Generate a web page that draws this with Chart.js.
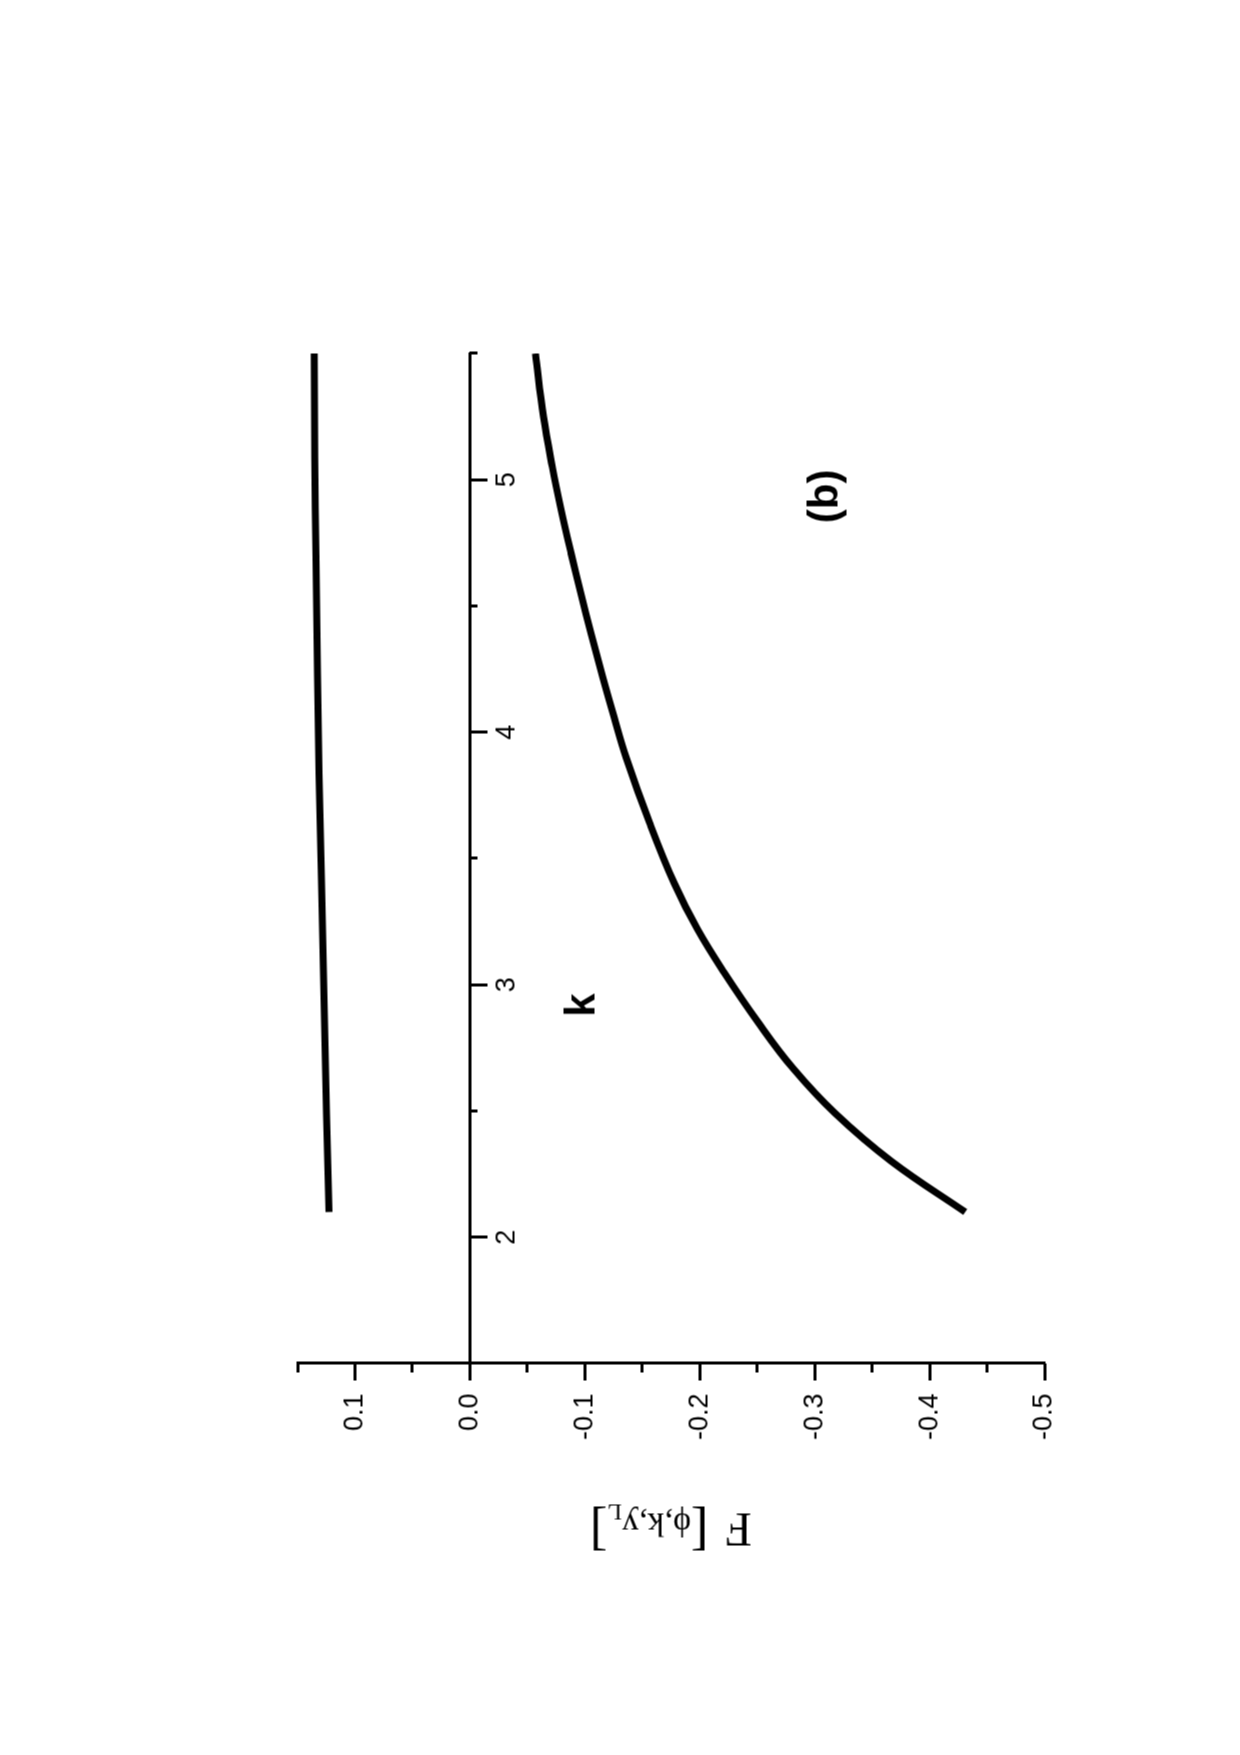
<!DOCTYPE html>
<html>
<head>
<meta charset="utf-8">
<script src="https://cdn.jsdelivr.net/npm/chart.js@4.4.1/dist/chart.umd.min.js"></script>
<style>
    html, body {
        margin: 0;
        padding: 0;
        background: #ffffff;
    }
    body {
        width: 1240px;
        height: 1755px;
        overflow: hidden;
        position: relative;
    }
    /* The figure is printed sideways: draw it landscape, then turn it a quarter turn */
    #plotHolder {
        position: absolute;
        left: -257.5px;
        top: 257.5px;
        width: 1755px;
        height: 1240px;
        transform: rotate(-90deg);
    }
</style>
</head>
<body>
<div id="plotHolder">
    <canvas id="fieldChart" width="1755" height="1240"></canvas>
</div>
<script>
// Axis ranges and ticks
const kMin = 1.5;
const kMax = 5.5;
const fMin = -0.5;
const fMax = 0.15;
const kTicks = [2, 3, 4, 5];
const kMinorTicks = [1.5, 2, 2.5, 3, 3.5, 4, 4.5, 5, 5.5];
const fTicks = [-0.5, -0.4, -0.3, -0.2, -0.1, 0.0, 0.1];
const fMinorTicks = [-0.5, -0.45, -0.4, -0.35, -0.3, -0.25, -0.2, -0.15, -0.1, -0.05, 0.0, 0.05, 0.1, 0.15];

// Upper branch
const upperK = [2.10, 2.49, 2.95, 3.41, 3.84, 4.23, 4.69, 5.09, 5.50];
const upperF = [0.1225, 0.1247, 0.1270, 0.1291, 0.1312, 0.1326, 0.1340, 0.1349, 0.1355];

// Lower branch
const lowerK = [2.10, 2.30, 2.49, 2.67, 2.85, 3.05, 3.22, 3.40, 3.64, 3.90, 4.06, 4.22, 4.39, 4.55, 4.71, 4.89, 5.05, 5.25, 5.50];
const lowerF = [-0.431, -0.367, -0.318, -0.281, -0.251, -0.221, -0.198, -0.178, -0.1565, -0.136, -0.1255, -0.1155, -0.1055, -0.0965, -0.088, -0.079, -0.0718, -0.064, -0.057];

// Text placed in data units
const kTitleAt = [2.92, -0.1088];
const panelTagAt = [4.934, -0.3203];

const sansFont = '"Liberation Sans", Arial, sans-serif';
const serifFont = '"Liberation Serif", "Times New Roman", serif';

// Turn two arrays into {x, y} points
function toPoints(xs, ys) {
    return xs.map((x, i) => ({x: x, y: ys[i]}));
}

// Replace the generated ticks with a fixed list
function useTicks(values) {
    return scale => {
        scale.ticks = values.map(v => ({value: v}));
    };
}

// Draws the "k" title, the panel tag and the F axis title with its subscript
const figureText = {
    id: 'figureText',
    afterDraw(chart) {
        const {ctx, chartArea, scales} = chart;
        const x = scales.x;
        const y = scales.y;

        ctx.save();
        ctx.fillStyle = '#000000';
        ctx.textAlign = 'center';
        ctx.textBaseline = 'alphabetic';
        ctx.font = 'bold 42px ' + sansFont;
        ctx.fillText('k', x.getPixelForValue(kTitleAt[0]), y.getPixelForValue(kTitleAt[1]));
        ctx.fillText('(b)', x.getPixelForValue(panelTagAt[0]), y.getPixelForValue(panelTagAt[1]));

        // F [ϕ,k,y_L], read bottom to top
        const pieces = [
            {text: 'F', font: '48px ' + serifFont, dy: 0},
            {text: '  ', font: '34px ' + serifFont, dy: 0},
            {text: '[', font: '52px ' + serifFont, dy: 0},
            {text: 'ϕ,k,y', font: '34px ' + serifFont, dy: 0},
            {text: 'L', font: '24px ' + serifFont, dy: 9},
            {text: ']', font: '52px ' + serifFont, dy: 0}
        ];
        let total = 0;
        pieces.forEach(p => {
            ctx.font = p.font;
            p.width = ctx.measureText(p.text).width;
            total += p.width;
        });
        ctx.translate(chartArea.left - 150, (chartArea.top + chartArea.bottom) / 2);
        ctx.rotate(-Math.PI / 2);
        ctx.textAlign = 'left';
        let pos = -total / 2;
        pieces.forEach(p => {
            ctx.font = p.font;
            ctx.fillText(p.text, pos, p.dy);
            pos += p.width;
        });
        ctx.restore();
    }
};

const canvasContext = document.getElementById('fieldChart').getContext('2d');

new Chart(canvasContext, {
    type: 'line',
    data: {
        datasets: [
            {
                label: 'upper',
                data: toPoints(upperK, upperF),
                borderColor: '#000000',
                borderWidth: 7,
                pointRadius: 0,
                fill: false,
                tension: 0.4
            },
            {
                label: 'lower',
                data: toPoints(lowerK, lowerF),
                borderColor: '#000000',
                borderWidth: 7,
                pointRadius: 0,
                fill: false,
                tension: 0.4
            }
        ]
    },
    options: {
        responsive: false,
        animation: false,
        devicePixelRatio: 1,
        layout: {
            padding: {left: 292, right: 353, top: 297, bottom: 196}
        },
        plugins: {
            legend: {display: false},
            tooltip: {enabled: false}
        },
        scales: {
            // k axis, drawn along F = 0
            x: {
                type: 'linear',
                axis: 'x',
                position: {y: 0},
                min: kMin,
                max: kMax,
                afterBuildTicks: useTicks(kTicks),
                border: {display: true, color: '#000000', width: 3},
                grid: {display: true, drawOnChartArea: false, drawTicks: true, tickLength: 16, tickWidth: 3, tickColor: '#000000'},
                ticks: {
                    autoSkip: false,
                    maxRotation: 0,
                    padding: 5,
                    color: '#000000',
                    font: {family: sansFont, size: 27},
                    callback: value => String(value)
                }
            },
            // short ticks every 0.5 on the k axis
            xMinor: {
                type: 'linear',
                axis: 'x',
                position: {y: 0},
                min: kMin,
                max: kMax,
                afterBuildTicks: useTicks(kMinorTicks),
                border: {display: false},
                grid: {display: true, drawOnChartArea: false, drawTicks: true, tickLength: 8, tickWidth: 3, tickColor: '#000000'},
                ticks: {display: false, autoSkip: false}
            },
            // F axis
            y: {
                type: 'linear',
                axis: 'y',
                position: 'left',
                min: fMin,
                max: fMax,
                afterBuildTicks: useTicks(fTicks),
                border: {display: true, color: '#000000', width: 3},
                grid: {display: true, drawOnChartArea: false, drawTicks: true, tickLength: 17, tickWidth: 3, tickColor: '#000000'},
                ticks: {
                    autoSkip: false,
                    padding: 13,
                    color: '#000000',
                    font: {family: sansFont, size: 27},
                    callback: value => (Math.abs(value) < 1e-9 ? '0.0' : value.toFixed(1))
                },
                afterFit: scale => {
                    scale.width = 100;
                }
            },
            // short ticks every 0.05 on the F axis
            yMinor: {
                type: 'linear',
                axis: 'y',
                position: {x: kMin},
                min: fMin,
                max: fMax,
                afterBuildTicks: useTicks(fMinorTicks),
                border: {display: false},
                grid: {display: true, drawOnChartArea: false, drawTicks: true, tickLength: 9, tickWidth: 3, tickColor: '#000000'},
                ticks: {display: false, autoSkip: false}
            }
        }
    },
    plugins: [figureText]
});
</script>
</body>
</html>
